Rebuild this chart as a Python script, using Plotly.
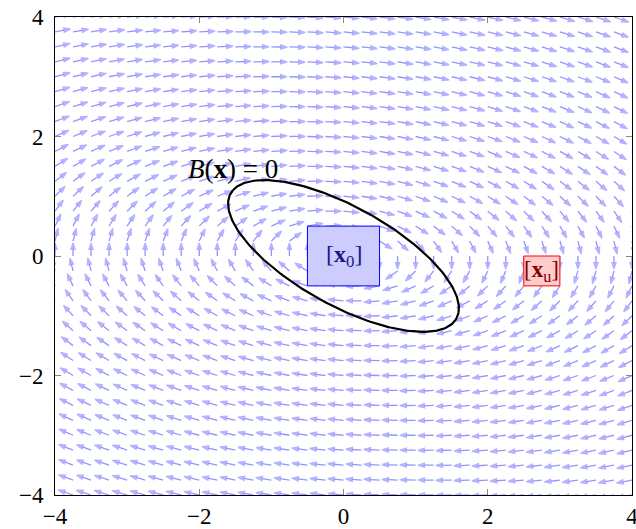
import numpy as np
import plotly.graph_objects as go

# grid of arrow tails (same on both axes)
grid = [-4.0, -3.75, -3.5, -3.25, -3.0, -2.75, -2.5, -2.25, -2.0, -1.75, -1.5,
        -1.25, -1.0, -0.75, -0.5, -0.25, 0.0, 0.25, 0.5, 0.75, 1.0, 1.25, 1.5,
        1.75, 2.0, 2.25, 2.5, 2.75, 3.0, 3.25, 3.5, 3.75, 4.0]

# dynamics estimated from the arrow directions: dx = y, dy = -a*x - b*y
field_a = 0.325
field_b = 0.11
arrow_len = 0.22

# barrier level set B(x)=0 : x' P x = 1
barrier_P = [[0.741, 0.642], [0.642, 1.176]]

# initial set and unsafe set boxes: [x_min, x_max, y_min, y_max]
x0_box = [-0.5, 0.5, -0.5, 0.5]
xu_box = [2.5, 3.0, -0.5, 0.0]

tick_vals = [-4, -2, 0, 2, 4]

SERIF = "Liberation Serif"
ARROW_COLOR = '#9494ff'

# CALCULATE QUIVER
xs, ys, sizes = [], [], []
for gy in grid:
    for gx in grid:
        u = gy
        v = -field_a * gx - field_b * gy
        n = np.hypot(u, v)
        if n == 0:
            continue
        xs += [gx, gx + arrow_len * u / n, None]
        ys += [gy, gy + arrow_len * v / n, None]
        sizes += [0, 7, 0]

quiver = go.Scatter(x=xs, y=ys, mode='lines+markers', hoverinfo='skip',
                    line=dict(color=ARROW_COLOR, width=1.3),
                    marker=dict(symbol='arrow', size=sizes, angleref='previous',
                                color=ARROW_COLOR, line=dict(width=1.2, color=ARROW_COLOR)))

# CALCULATE ELLIPSE
w, V = np.linalg.eigh(np.array(barrier_P))
t = np.linspace(0, 2 * np.pi, 241)
pts = V @ np.diag(1 / np.sqrt(w)) @ np.vstack([np.cos(t), np.sin(t)])
ellipse = go.Scatter(x=pts[0], y=pts[1], mode='lines', hoverinfo='skip',
                     line=dict(color='black', width=2.2))

shapes = [
    dict(type='rect', x0=x0_box[0], x1=x0_box[1], y0=x0_box[2], y1=x0_box[3],
         fillcolor='#ccccff', line=dict(color='#0000ff', width=1), layer='above'),
    dict(type='rect', x0=xu_box[0], x1=xu_box[1], y0=xu_box[2], y1=xu_box[3],
         fillcolor='#ffcccc', line=dict(color='#ff0000', width=1), layer='above'),
]

annotations = [
    dict(x=-1.53, y=1.46, text='<i>B</i>(<b>x</b>) = 0', showarrow=False,
         font=dict(family=SERIF, size=27, color='black')),
    dict(x=0, y=0, text='[<b>x</b><sub>0</sub>]', showarrow=False,
         font=dict(family=SERIF, size=24, color='#1a1a80')),
    dict(x=(xu_box[0] + xu_box[1]) / 2, y=(xu_box[2] + xu_box[3]) / 2,
         text='[<b>x</b><sub>u</sub>]', showarrow=False,
         font=dict(family=SERIF, size=23, color='#800000')),
]

axis_style = dict(range=[-4, 4], tickvals=tick_vals, ticks='inside', ticklen=6,
                  tickcolor='#888888', showline=True, linecolor='black', linewidth=1,
                  mirror='ticks', showgrid=False, zeroline=False, automargin=False,
                  ticklabeloverflow='allow',
                  tickfont=dict(family=SERIF, size=23, color='black'))

layout = go.Layout(width=636, height=529, margin=dict(l=55, r=4, t=17, b=34),
                   paper_bgcolor='white', plot_bgcolor='white', showlegend=False,
                   xaxis=dict(axis_style, ticklabelstandoff=0),
                   yaxis=dict(axis_style, ticklabelstandoff=6),
                   shapes=shapes, annotations=annotations)

fig = go.Figure(data=[quiver, ellipse], layout=layout)
fig.write_html("out.html", config={'displayModeBar': False},
               post_script="document.body.style.margin='0';")
